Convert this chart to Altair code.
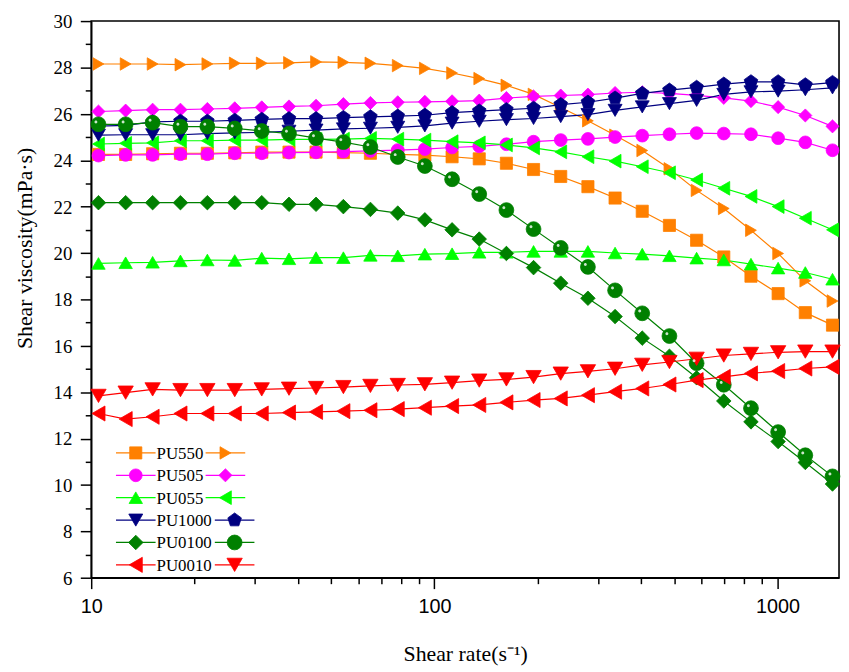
import altair as alt
import pandas as pd

# ---------------- data ----------------
shear_rate = [10.5, 12.6, 15.1, 18.2, 21.8, 26.2, 31.4, 37.7, 45.2, 54.3, 65.1, 78.2,
              93.8, 112.6, 135.1, 162.1, 194.5, 233.4, 280.1, 336.1, 403.3, 484.0,
              580.8, 697.0, 836.4, 1003.6, 1204.4, 1445.3]

samples = ["PU550", "PU505", "PU055", "PU1000", "PU0100", "PU0010"]

pu550_square = [24.25, 24.25, 24.28, 24.3, 24.3, 24.32, 24.35, 24.35, 24.35, 24.33, 24.3, 24.25, 24.22,
                24.15, 24.06, 23.87, 23.6, 23.3, 22.86, 22.37, 21.8, 21.19, 20.55, 19.83, 19.0, 18.25, 17.43, 16.89]
pu550_tri = [28.15, 28.15, 28.15, 28.12, 28.15, 28.18, 28.18, 28.2, 28.24, 28.22, 28.18, 28.08, 27.96, 27.76,
             27.52, 27.23, 26.84, 26.27, 25.7, 25.08, 24.42, 23.63, 22.7, 21.92, 20.98, 19.98, 18.8, 17.93]
pu505_circle = [24.2, 24.23, 24.23, 24.26, 24.26, 24.3, 24.3, 24.33, 24.34, 24.37, 24.4, 24.44, 24.48,
                24.55, 24.6, 24.69, 24.8, 24.87, 24.92, 25.0, 25.06, 25.12, 25.17, 25.15, 25.12, 24.95, 24.77, 24.43]
pu505_diamond = [26.1, 26.14, 26.18, 26.18, 26.21, 26.24, 26.28, 26.32, 26.35, 26.42, 26.47, 26.5, 26.52,
                 26.54, 26.57, 26.68, 26.75, 26.79, 26.83, 26.9, 26.93, 26.88, 26.8, 26.69, 26.55, 26.29, 25.93, 25.46]
pu055_up = [19.55, 19.58, 19.6, 19.66, 19.7, 19.68, 19.78, 19.75, 19.8, 19.8, 19.9, 19.88, 19.95, 19.97,
            20.03, 20.03, 20.07, 20.07, 20.07, 20.0, 19.95, 19.88, 19.78, 19.7, 19.52, 19.35, 19.16, 18.87]
pu055_left = [24.7, 24.73, 24.75, 24.84, 24.84, 24.87, 24.87, 24.9, 24.9, 24.91, 24.94, 24.91, 24.87, 24.8,
              24.75, 24.66, 24.53, 24.36, 24.15, 23.96, 23.72, 23.46, 23.15, 22.79, 22.44, 22.0, 21.5, 21.0]
pu1000_down = [25.08, 25.1, 25.1, 25.1, 25.15, 25.18, 25.2, 25.25, 25.3, 25.35, 25.38, 25.42, 25.48,
               25.6, 25.68, 25.75, 25.8, 25.88, 25.97, 26.15, 26.3, 26.44, 26.58, 26.84, 26.95, 26.98, 27.04, 27.12]
pu1000_pent = [25.47, 25.5, 25.65, 25.68, 25.68, 25.72, 25.76, 25.79, 25.79, 25.84, 25.87, 25.9, 25.94,
               26.05, 26.12, 26.18, 26.24, 26.4, 26.5, 26.68, 26.88, 27.02, 27.14, 27.28, 27.38, 27.38, 27.25, 27.35]
pu0100_diamond = [22.17, 22.17, 22.17, 22.17, 22.17, 22.17, 22.17, 22.1, 22.1, 22.0, 21.88, 21.72, 21.43,
                  21.0, 20.6, 19.98, 19.37, 18.7, 18.05, 17.26, 16.33, 15.55, 14.62, 13.62, 12.72, 11.87, 10.97, 10.04]
pu0100_sphere = [25.55, 25.55, 25.62, 25.45, 25.45, 25.37, 25.26, 25.15, 24.95, 24.78, 24.57, 24.14, 23.75,
                 23.18, 22.54, 21.85, 21.03, 20.22, 19.4, 18.39, 17.4, 16.42, 15.25, 14.32, 13.31, 12.28, 11.28, 10.37]
pu0010_left = [13.08, 12.84, 12.94, 13.08, 13.08, 13.08, 13.08, 13.12, 13.15, 13.18, 13.22, 13.27, 13.33, 13.4,
               13.45, 13.56, 13.66, 13.73, 13.87, 14.02, 14.16, 14.33, 14.52, 14.66, 14.81, 14.91, 15.02, 15.09]
pu0010_down = [13.84, 13.98, 14.12, 14.09, 14.09, 14.09, 14.12, 14.15, 14.18, 14.22, 14.27, 14.31, 14.34,
               14.41, 14.5, 14.55, 14.65, 14.8, 14.9, 15.01, 15.18, 15.3, 15.44, 15.58, 15.65, 15.72, 15.75, 15.75]

y_ticks = list(range(6, 31))
y_labels = [6, 8, 10, 12, 14, 16, 18, 20, 22, 24, 26, 28, 30]
x_ticks = [10, 20, 30, 40, 50, 60, 70, 80, 90, 100, 200, 300, 400, 500, 600, 700, 800, 900, 1000]

# ---------------- styles ----------------
colors = ["#FF8000", "#FF00FF", "#00FF00", "#000080", "#008000", "#FF0000"]
PENTAGON = "M0,-1L0.951,-0.309L0.588,0.809L-0.588,0.809L-0.951,-0.309Z"
HIGHLIGHT = "M-0.6,-0.35A0.22,0.22 0 1,1 -0.16,-0.35A0.22,0.22 0 1,1 -0.6,-0.35Z"

series = [
    ("PU550", "PU550-a", pu550_square, "square", 150),
    ("PU550", "PU550-b", pu550_tri, "triangle-right", 240),
    ("PU505", "PU505-a", pu505_circle, "circle", 175),
    ("PU505", "PU505-b", pu505_diamond, "diamond", 225),
    ("PU055", "PU055-a", pu055_up, "triangle-up", 230),
    ("PU055", "PU055-b", pu055_left, "triangle-left", 230),
    ("PU1000", "PU1000-a", pu1000_down, "triangle-down", 230),
    ("PU1000", "PU1000-b", pu1000_pent, PENTAGON, 210),
    ("PU0100", "PU0100-a", pu0100_diamond, "diamond", 230),
    ("PU0100", "PU0100-b", pu0100_sphere, "circle", 185),
    ("PU0010", "PU0010-a", pu0010_left, "triangle-left", 230),
    ("PU0010", "PU0010-b", pu0010_down, "triangle-down", 230),
]
keys = [s[1] for s in series]
shapes = [s[3] for s in series]
sizes = [s[4] for s in series]

rows = []
for order, (sample, key, vals, _, _) in enumerate(series):
    for x, v in zip(shear_rate, vals):
        rows.append({"sample": sample, "key": key, "order": order, "rate": x, "visc": v})
df = pd.DataFrame(rows)

color_enc = alt.Color("sample:N", scale=alt.Scale(domain=samples, range=colors), legend=None)
shape_enc = alt.Shape("key:N", scale=alt.Scale(domain=keys, range=shapes), legend=None)
size_enc = alt.Size("key:N", scale=alt.Scale(domain=keys, range=sizes), legend=None)

SERIF = "Liberation Serif"
SANS = "Liberation Sans"

x_scale = alt.Scale(type="log", domain=[10, 1510], nice=False)
y_scale = alt.Scale(domain=[6, 30], nice=False, zero=False)

x_axis = alt.Axis(
    values=x_ticks, format="d",
    labelExpr="(datum.value == 10 || datum.value == 100 || datum.value == 1000) ? datum.label : ''",
    tickSize={"condition": {"test": "datum.value == 10 || datum.value == 100 || datum.value == 1000", "value": 11}, "value": 6},
    grid=False, domainColor="black", domainWidth=1.6, tickColor="black", tickWidth=1.5,
    labelFont=SANS, labelFontSize=20, labelColor="black", labelPadding=8, labelFlush=False,
    title="Shear rate(s⁻¹)", titleFont=SERIF, titleFontSize=22, titleFontWeight="normal",
    titleColor="black", titleY=84, titleBaseline="alphabetic",
)
y_axis = alt.Axis(
    values=y_ticks, labels=False,
    tickSize={"condition": {"test": "datum.value % 2 === 0", "value": 11}, "value": 6},
    grid=False, domainColor="black", domainWidth=1.6, tickColor="black", tickWidth=1.5,
    title="Shear viscosity(mPa·s)", titleFont=SERIF, titleFontSize=22, titleFontWeight="normal",
    titleColor="black", titleX=-67, titleY=229, titleAngle=270, titleAlign="center",
    titleBaseline="middle",
)

base = alt.Chart(df)
lines = base.mark_line(strokeWidth=1.2).encode(
    x=alt.X("rate:Q", scale=x_scale, axis=x_axis),
    y=alt.Y("visc:Q", scale=y_scale, axis=y_axis),
    color=color_enc, detail="key:N", order="rate:Q",
)
points = base.mark_point(filled=True, opacity=1, strokeWidth=0.8).encode(
    x=alt.X("rate:Q", scale=x_scale, axis=None),
    y=alt.Y("visc:Q", scale=y_scale, axis=None),
    color=color_enc, stroke=color_enc, shape=shape_enc, size=size_enc, order="order:Q",
)
highlight = base.transform_filter(alt.datum.key == "PU0100-b").mark_point(
    filled=True, color="white", opacity=0.8
).encode(
    x=alt.X("rate:Q", scale=x_scale, axis=None),
    y=alt.Y("visc:Q", scale=y_scale, axis=None),
    shape=alt.value(HIGHLIGHT), size=alt.value(185),
)

# serif tick labels for the y axis
ylab_df = pd.DataFrame({"v": y_labels, "t": [str(v) for v in y_labels]})
y_label_text = alt.Chart(ylab_df).mark_text(
    align="right", baseline="middle", font=SERIF, fontSize=19, color="black", dy=1
).encode(
    x=alt.value(-19),
    y=alt.Y("v:Q", scale=y_scale, axis=None),
    text="t:N",
)

# ---------------- custom legend ----------------
seg_rows, mark_rows, text_rows = [], [], []
for i, sample in enumerate(samples):
    text_w = len(sample) * 9.3
    rx1 = 66 + text_w + 3
    seg_rows.append({"sample": sample, "row": i, "x1": 25, "x2": 65})
    seg_rows.append({"sample": sample, "row": i, "x1": rx1, "x2": rx1 + 40})
    mark_rows.append({"sample": sample, "key": sample + "-a", "row": i, "xm": 45})
    mark_rows.append({"sample": sample, "key": sample + "-b", "row": i, "xm": rx1 + 20})
    text_rows.append({"sample": sample, "row": i, "label": sample})
seg_df = pd.DataFrame(seg_rows)
mark_df = pd.DataFrame(mark_rows)
text_df = pd.DataFrame(text_rows)

row_y = alt.Y("row:O", scale=alt.Scale(type="point", range=[436, 549], padding=0), axis=None)

leg_lines = alt.Chart(seg_df).mark_rule(strokeWidth=1.2).encode(
    x=alt.X("x1:Q", scale=None, axis=None), x2="x2:Q", y=row_y, color=color_enc,
)
leg_marks = alt.Chart(mark_df).mark_point(filled=True, opacity=1, strokeWidth=0.8).encode(
    x=alt.X("xm:Q", scale=None, axis=None), y=row_y, color=color_enc, stroke=color_enc,
    shape=shape_enc, size=size_enc,
)
leg_high = alt.Chart(mark_df).transform_filter(alt.datum.key == "PU0100-b").mark_point(
    filled=True, color="white", opacity=0.8
).encode(
    x=alt.X("xm:Q", scale=None, axis=None), y=row_y, shape=alt.value(HIGHLIGHT), size=alt.value(185),
)
leg_text = alt.Chart(text_df).mark_text(
    align="left", baseline="middle", font=SERIF, fontSize=17, color="black", dy=1
).encode(
    x=alt.value(66), y=row_y, text="label:N",
)

chart = alt.layer(
    lines, points, highlight, y_label_text, leg_lines, leg_marks, leg_high, leg_text
).resolve_scale(x="independent", y="independent").properties(
    width=755, height=562,
    autosize=alt.AutoSizeParams(type="none"),
    padding={"left": 84, "top": 10, "right": 2, "bottom": 94},
    background="white",
).configure_view(
    stroke="black", strokeWidth=1.6
)

chart.save("out.html", embed_options={"renderer": "svg", "actions": False})
